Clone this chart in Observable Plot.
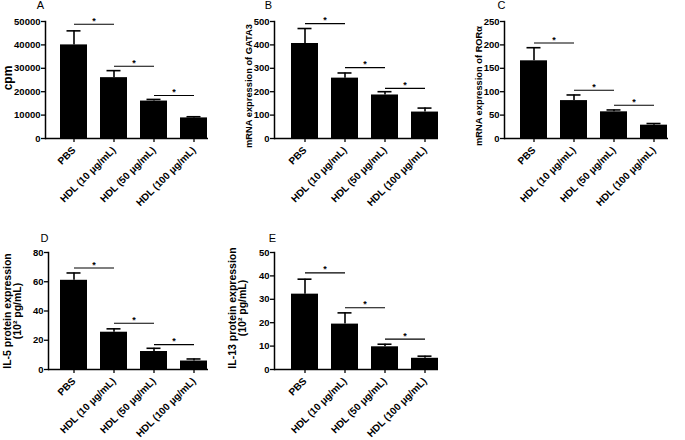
<!DOCTYPE html>
<html>
<head>
<meta charset="utf-8">
<script src="https://cdn.jsdelivr.net/npm/d3@7"></script>
<script src="https://cdn.jsdelivr.net/npm/@observablehq/plot@0.6"></script>
<style>
  html, body { margin: 0; padding: 0; background: #fff; }
  #chart { position: relative; width: 685px; height: 440px; overflow: hidden; font-family: "Liberation Sans", Arial, sans-serif; }
  #chart svg { position: absolute; overflow: visible; }
</style>
</head>
<body>
<div id="chart"></div>
<script>
const categories = ["PBS", "HDL (10 μg/mL)", "HDL (50 μg/mL)", "HDL (100 μg/mL)"];

// Panel A: cpm
const meansA = [40000, 26000, 16000, 8800];
const errA   = [46000, 29000, 16700, 9300];
const sigA   = [48800, 30900, 18400];
const ticksA = [0, 10000, 20000, 30000, 40000, 50000];

// Panel B: mRNA expression of GATA3
const meansB = [406, 258, 186, 113];
const errB   = [470, 280, 200, 130];
const sigB   = [491, 303, 214];
const ticksB = [0, 100, 200, 300, 400, 500];

// Panel C: mRNA expression of RORα
const meansC = [166, 81, 57, 28.5];
const errC   = [194, 93, 61, 32];
const sigC   = [204, 103, 71];
const ticksC = [0, 50, 100, 150, 200, 250];

// Panel D: IL-5 protein expression
const meansD = [61, 25.5, 12.3, 5.8];
const errD   = [66, 27.8, 14.5, 7.2];
const sigD   = [69.4, 31.6, 17];
const ticksD = [0, 20, 40, 60, 80];

// Panel E: IL-13 protein expression
const meansE = [32.2, 19.4, 9.7, 4.8];
const errE   = [38.6, 24.2, 10.8, 5.7];
const sigE   = [41.3, 26.4, 13];
const ticksE = [0, 10, 20, 30, 40, 50];

const titles = {
  A: "cpm",
  B: "mRNA expression of GATA3",
  C: "mRNA expression of RORα",
  D: "IL-5 protein expression\n(10² pg/mL)",
  E: "IL-13 protein expression\n(10² pg/mL)"
};

const FONT = "Liberation Sans, Arial, sans-serif";

function panel(cfg) {
  const rows = categories.map((c, i) => ({cat: c, mean: cfg.means[i], err: cfg.errs[i]}));
  const sigRows = cfg.sigs.map((s, i) => ({a: categories[i], b: categories[i + 1], y: s}));
  const svg = Plot.plot({
    width: 230,
    height: 220,
    marginLeft: cfg.mL,
    marginRight: cfg.mR,
    marginTop: cfg.mT,
    marginBottom: cfg.mB,
    style: {fontFamily: FONT, background: "transparent", color: "black"},
    x: {domain: categories, range: cfg.xRange, paddingInner: 0.33, paddingOuter: 0.165, label: null},
    y: {domain: cfg.yDomain, label: null},
    marks: [
      Plot.barY(rows, {x: "cat", y: "mean", fill: "black"}),
      Plot.ruleX(rows, {x: "cat", y1: "mean", y2: "err", stroke: "black", strokeWidth: 1.6}),
      Plot.tickY(rows, {x: "cat", y: "err", stroke: "black", strokeWidth: 1.6, insetLeft: 6.5, insetRight: 6.5}),
      Plot.link(sigRows, {x1: "a", x2: "b", y1: "y", y2: "y", stroke: "black", strokeWidth: 1.1}),
      Plot.text(sigRows, {x: "a", y: "y", text: () => "*", dx: 20, dy: -0.5, lineAnchor: "bottom", fontWeight: "bold", fontSize: 9, fill: "black"}),
      Plot.ruleY([0], {stroke: "black", strokeWidth: 1.5}),
      Plot.frame({anchor: "left", stroke: "black", strokeWidth: 1.5}),
      Plot.axisY({ticks: cfg.yTicks, tickFormat: d3.format("d"), tickSize: 4, tickPadding: 1, fontSize: 9.5, fontWeight: "bold", strokeWidth: 1.3, label: null}),
      Plot.axisX({tickRotate: -45, tickSize: 4, tickPadding: 6, fontSize: 10, fontWeight: "bold", strokeWidth: 1.3, label: null}),
      Plot.text([cfg.title], {frameAnchor: "left", rotate: -90, dx: cfg.titleDx, dy: cfg.titleDy, textAnchor: "middle", lineAnchor: "middle", fontSize: cfg.titleSize, fontWeight: "bold", fill: "black"}),
      Plot.text([cfg.letter], {frameAnchor: "top-left", dx: cfg.letterDx, dy: cfg.letterDy, textAnchor: "middle", lineAnchor: "middle", fontSize: 11, fill: "black"})
    ]
  });
  svg.style.left = cfg.left + "px";
  svg.style.top = cfg.top + "px";
  document.getElementById("chart").appendChild(svg);
}

panel({left: 0, top: 0, mL: 45, mR: 22, mT: 21, mB: 82, xRange: [52.3, 213.7],
  means: meansA, errs: errA, sigs: sigA, yDomain: [0, 50000], yTicks: ticksA,
  title: titles.A, titleSize: 12, titleDx: -37.5, titleDy: -2, letter: "A", letterDx: -5, letterDy: -16});

panel({left: 225, top: 0, mL: 49, mR: 17, mT: 21, mB: 82, xRange: [59.3, 219.7],
  means: meansB, errs: errB, sigs: sigB, yDomain: [0, 500], yTicks: ticksB,
  title: titles.B, titleSize: 9.3, titleDx: -25.5, titleDy: 6, letter: "B", letterDx: -6, letterDy: -16});

panel({left: 455, top: 0, mL: 49, mR: 17, mT: 21, mB: 82, xRange: [57.3, 219.7],
  means: meansC, errs: errC, sigs: sigC, yDomain: [0, 250], yTicks: ticksC,
  title: titles.C, titleSize: 9.3, titleDx: -25.5, titleDy: 6, letter: "C", letterDx: -3, letterDy: -16});

panel({left: 0, top: 220, mL: 48, mR: 22, mT: 32, mB: 71, xRange: [52.3, 213.7],
  means: meansD, errs: errD, sigs: sigD, yDomain: [0, 80], yTicks: ticksD,
  title: titles.D, titleSize: 10.5, titleDx: -36, titleDy: 0, letter: "D", letterDx: -4, letterDy: -14});

panel({left: 225, top: 220, mL: 49, mR: 17, mT: 32, mB: 71, xRange: [59.3, 219.7],
  means: meansE, errs: errE, sigs: sigE, yDomain: [0, 50], yTicks: ticksE,
  title: titles.E, titleSize: 10.5, titleDx: -37, titleDy: -3, letter: "E", letterDx: -2, letterDy: -14});
</script>
</body>
</html>
